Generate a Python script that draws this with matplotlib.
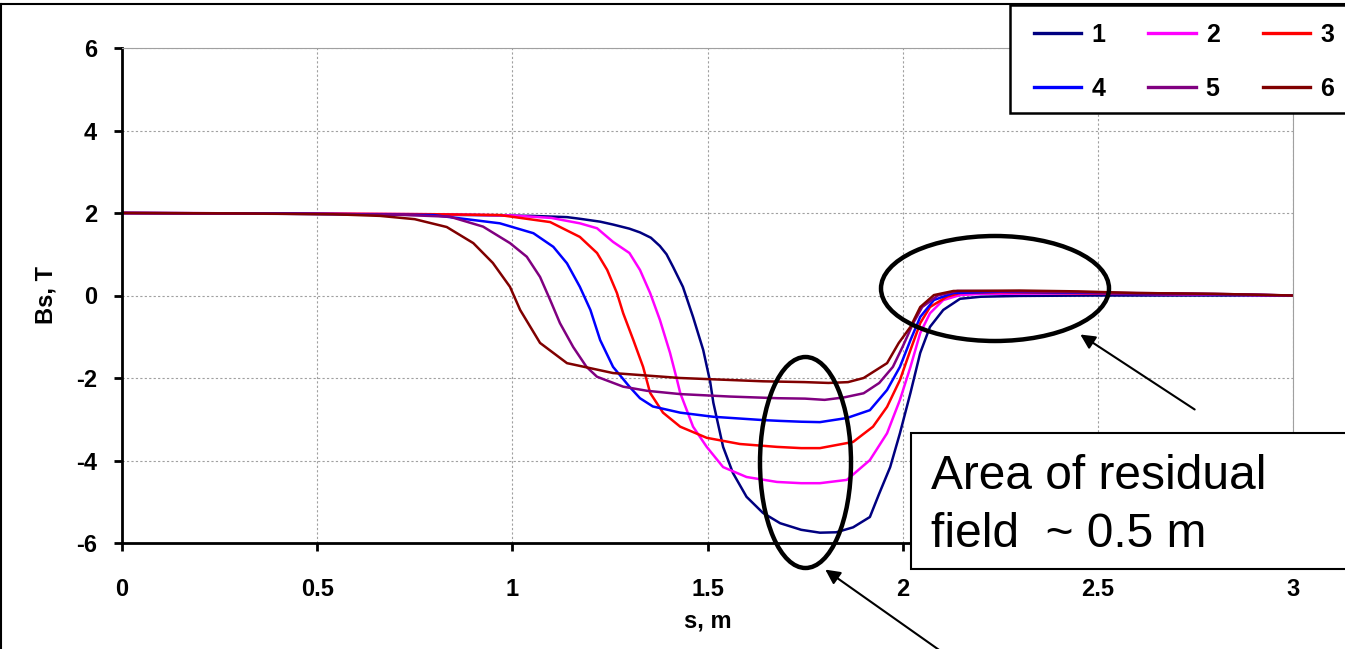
import matplotlib
matplotlib.use("Agg")
import matplotlib.pyplot as plt
from matplotlib.patches import Ellipse, Rectangle, FancyArrowPatch
from matplotlib.lines import Line2D

plt.rcParams['font.family'] = ['Liberation Sans', 'DejaVu Sans']
plt.rcParams['axes.unicode_minus'] = False

# ---- data ----
s1 = [0, 0.3, 0.6, 0.9, 1.05, 1.14, 1.173, 1.225, 1.258, 1.30, 1.327, 1.355, 1.378, 1.395, 1.412, 1.437, 1.463, 1.489, 1.507, 1.515, 1.54, 1.565, 1.60, 1.642, 1.686, 1.74, 1.788, 1.83, 1.873, 1.916, 1.94, 1.968, 1.993, 2.02, 2.045, 2.07, 2.104, 2.147, 2.2, 2.3, 2.5, 2.8, 3.0]
B1 = [2.0, 1.99, 1.97, 1.95, 1.93, 1.9, 1.86, 1.79, 1.72, 1.62, 1.53, 1.4, 1.2, 1.0, 0.69, 0.21, -0.52, -1.32, -2.1, -2.6, -3.67, -4.3, -4.88, -5.27, -5.52, -5.68, -5.75, -5.74, -5.62, -5.37, -4.8, -4.16, -3.34, -2.36, -1.39, -0.76, -0.35, -0.08, -0.03, -0.01, 0.0, 0.0, 0.0]

s2 = [0, 0.4, 0.8, 1.0, 1.1, 1.173, 1.217, 1.258, 1.30, 1.327, 1.353, 1.378, 1.404, 1.422, 1.43, 1.463, 1.498, 1.54, 1.60, 1.678, 1.74, 1.788, 1.857, 1.916, 1.96, 1.993, 2.02, 2.045, 2.07, 2.104, 2.147, 2.2, 2.4, 2.7, 3.0]
B2 = [2.0, 1.99, 1.97, 1.94, 1.88, 1.75, 1.63, 1.30, 1.03, 0.62, 0.06, -0.59, -1.39, -2.05, -2.36, -3.18, -3.67, -4.16, -4.4, -4.52, -4.55, -4.55, -4.47, -3.99, -3.34, -2.53, -1.73, -0.91, -0.43, -0.11, 0.01, 0.04, 0.05, 0.03, 0.0]

s3 = [0, 0.4, 0.8, 0.968, 1.097, 1.173, 1.217, 1.243, 1.268, 1.284, 1.31, 1.335, 1.353, 1.386, 1.43, 1.498, 1.583, 1.678, 1.74, 1.788, 1.873, 1.924, 1.96, 1.993, 2.02, 2.045, 2.07, 2.113, 2.147, 2.25, 2.5, 2.8, 3.0]
B3 = [2.0, 1.99, 1.97, 1.95, 1.78, 1.42, 1.03, 0.62, 0.06, -0.43, -1.08, -1.73, -2.36, -2.84, -3.18, -3.45, -3.6, -3.67, -3.7, -3.7, -3.55, -3.18, -2.7, -2.05, -1.32, -0.67, -0.28, -0.03, 0.06, 0.08, 0.05, 0.03, 0.0]

s4 = [0, 0.4, 0.797, 0.968, 1.054, 1.105, 1.14, 1.173, 1.2, 1.225, 1.258, 1.30, 1.327, 1.36, 1.43, 1.515, 1.642, 1.686, 1.74, 1.788, 1.857, 1.916, 1.96, 1.993, 2.02, 2.045, 2.08, 2.13, 2.25, 2.5, 2.8, 3.0]
B4 = [2.0, 1.99, 1.95, 1.75, 1.51, 1.18, 0.78, 0.21, -0.35, -1.08, -1.73, -2.21, -2.49, -2.69, -2.84, -2.94, -3.02, -3.04, -3.06, -3.07, -2.97, -2.78, -2.29, -1.73, -1.08, -0.52, -0.11, 0.06, 0.09, 0.06, 0.03, 0.0]

s5 = [0, 0.4, 0.7, 0.84, 0.925, 0.994, 1.037, 1.071, 1.097, 1.122, 1.156, 1.19, 1.217, 1.284, 1.345, 1.43, 1.558, 1.68, 1.75, 1.8, 1.85, 1.90, 1.94, 1.975, 2.0, 2.027, 2.05, 2.09, 2.14, 2.3, 2.5, 2.8, 3.0]
B5 = [2.0, 1.98, 1.96, 1.91, 1.67, 1.27, 0.94, 0.45, -0.11, -0.67, -1.25, -1.73, -1.97, -2.21, -2.31, -2.39, -2.45, -2.49, -2.5, -2.53, -2.47, -2.37, -2.12, -1.73, -1.24, -0.67, -0.28, 0.0, 0.11, 0.1, 0.07, 0.04, 0.0]

s6 = [0, 0.3, 0.54, 0.661, 0.75, 0.832, 0.90, 0.95, 0.994, 1.02, 1.071, 1.14, 1.258, 1.43, 1.642, 1.75, 1.81, 1.86, 1.90, 1.96, 1.99, 2.02, 2.045, 2.08, 2.13, 2.3, 2.45, 2.6, 2.8, 3.0]
B6 = [2.0, 1.99, 1.97, 1.93, 1.85, 1.66, 1.27, 0.79, 0.21, -0.35, -1.15, -1.64, -1.88, -2.0, -2.08, -2.1, -2.12, -2.1, -2.0, -1.64, -1.15, -0.76, -0.28, 0.01, 0.11, 0.12, 0.1, 0.06, 0.04, 0.0]

series_labels = ['1', '2', '3', '4', '5', '6']
series_colors = ['#000080', '#FF00FF', '#FF0000', '#0000FF', '#800080', '#800000']
x_ticks = [0, 0.5, 1, 1.5, 2, 2.5, 3]
x_ticklabels = ['0', '0.5', '1', '1.5', '2', '2.5', '3']
y_ticks = [-6, -4, -2, 0, 2, 4, 6]

W, H = 1345, 649
fig = plt.figure(figsize=(W / 100, H / 100), dpi=100)
ax = fig.add_axes([122 / W, 1 - 543 / H, (1293 - 122) / W, (543 - 48) / H])

all_s = [s1, s2, s3, s4, s5, s6]
all_B = [B1, B2, B3, B4, B5, B6]
lines = []
for s, B, lab, c in zip(all_s, all_B, series_labels, series_colors):
    ln, = ax.plot(s, B, color=c, lw=1.8, label=lab, solid_joinstyle='round')
    lines.append(ln)

ax.set_xlim(0, 3)
ax.set_ylim(-6, 6)
ax.set_xticks(x_ticks)
ax.set_xticklabels(x_ticklabels)
ax.set_yticks(y_ticks)
ax.grid(True, color='#a0a0a0', lw=0.8, linestyle=(0, (2, 2)))
ax.set_axisbelow(True)
for sp in ['top', 'right']:
    ax.spines[sp].set_color('#a0a0a0')
    ax.spines[sp].set_linewidth(0.8)
for sp in ['left', 'bottom']:
    ax.spines[sp].set_color('black')
    ax.spines[sp].set_linewidth(2.0)
ax.tick_params(axis='both', direction='out', length=6, width=2.0, labelsize=17)
ax.tick_params(axis='x', pad=19)
ax.tick_params(axis='y', pad=12)
for t in ax.get_xticklabels() + ax.get_yticklabels():
    t.set_fontweight('bold')
ax.set_xlabel('s, m', fontsize=17, fontweight='bold', labelpad=6)
ax.set_ylabel('Bs, T', fontsize=17, fontweight='bold', labelpad=13)

# legend frame (extends past the right edge, as in the reference)
fig.add_artist(Rectangle((1010 / W, 1 - 113 / H), 400 / W, (113 - 5) / H, transform=fig.transFigure,
                         facecolor='white', edgecolor='black', lw=1.8, zorder=8))
# legend: row-wise order
order = [0, 3, 1, 4, 2, 5]
leg = fig.legend([lines[i] for i in order], [series_labels[i] for i in order],
                 ncol=3, loc='upper left', bbox_to_anchor=(1020 / W, 1 - 9 / H),
                 prop={'weight': 'bold', 'size': 18},
                 handlelength=1.9, handletextpad=0.4, columnspacing=1.72,
                 labelspacing=1.2, borderpad=0.55, borderaxespad=0,
                 frameon=False)
leg.set_zorder(9)
for h in leg.get_lines():
    h.set_linewidth(2.4)

# figure border (left & top)
fig.add_artist(Line2D([1 / W, 1 / W], [0, 1 - 4 / H], transform=fig.transFigure, color='black', lw=1.5))
fig.add_artist(Line2D([1 / W, 1], [1 - 4 / H, 1 - 4 / H], transform=fig.transFigure, color='black', lw=1.5))

# ellipses
fig.add_artist(Ellipse((805.5 / W, 1 - 462.5 / H), 91 / W, 211 / H, transform=fig.transFigure,
                       fill=False, edgecolor='black', lw=3.2, zorder=5))
fig.add_artist(Ellipse((995 / W, 1 - 288.5 / H), 228 / W, 105 / H, transform=fig.transFigure,
                       fill=False, edgecolor='black', lw=3.2, zorder=5))

# arrows
fig.add_artist(FancyArrowPatch((1197 / W, 1 - 411 / H), (1078 / W, 1 - 333 / H), transform=fig.transFigure,
                               arrowstyle='-|>', mutation_scale=22, lw=1.5, color='black', zorder=6))
fig.add_artist(FancyArrowPatch((942 / W, 1 - 652 / H), (823 / W, 1 - 568 / H), transform=fig.transFigure,
                               arrowstyle='-|>', mutation_scale=22, lw=1.5, color='black', zorder=6))

# text box
fig.add_artist(Rectangle((911 / W, 1 - 569 / H), 500 / W, (569 - 433) / H, transform=fig.transFigure,
                         facecolor='white', edgecolor='black', lw=1.5, zorder=7))
fig.text(931 / W, 1 - 489 / H, 'Area of residual', fontsize=34.5, va='baseline', ha='left', zorder=8)
fig.text(931 / W, 1 - 547 / H, 'field  ~ 0.5 m', fontsize=34.5, va='baseline', ha='left', zorder=8)

fig.savefig('out.png', dpi=100)
